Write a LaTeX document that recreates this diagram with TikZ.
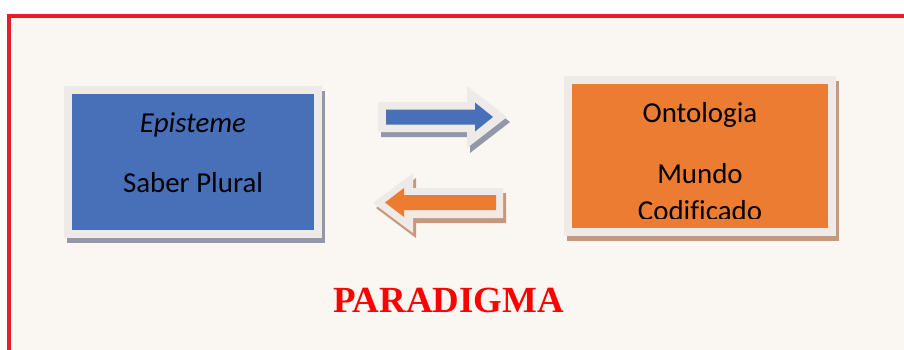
\documentclass[tikz,border=0pt]{standalone}
\usepackage{fontspec}
\setmainfont[Ligatures={TeX,NoCommon}]{Carlito}
\newfontfamily\titlefont{Liberation Serif}
\usetikzlibrary{backgrounds}
\definecolor{framered}{RGB}{236,27,40}
\definecolor{paper}{RGB}{250,246,242}
\definecolor{edge}{RGB}{238,234,231}
\definecolor{epiblue}{RGB}{72,112,185}
\definecolor{ontoorange}{RGB}{236,124,50}
\definecolor{blueshade}{RGB}{146,152,170}
\definecolor{orangeshade}{RGB}{200,152,124}
% block arrow: tail x, head x, tip x, mid y, half shaft, half head
\newcommand{\blockarrow}[6]{(#1,#4-#5) -- (#2,#4-#5) -- (#2,#4-#6) -- (#3,#4) -- (#2,#4+#6) -- (#2,#4+#5) -- (#1,#4+#5) -- cycle}
\begin{document}
\begin{tikzpicture}[x=1bp,y=-1bp,
	box/.style={minimum width=#1, minimum height=144bp, line width=8bp, draw=edge, inner sep=0pt},
	boxtext/.style={align=center, font=\fontsize{29}{37}\selectfont, inner sep=0pt}]
		\useasboundingbox (0,0) rectangle (904,349);
		% boxes
		\node[box=250bp, fill=epiblue] (episteme) at (193,162) {};
		\node[boxtext] (epitext) at (193,152.5) {\textit{Episteme}\\[23bp]Saber Plural};
		\node[box=264bp, minimum height=152bp, fill=ontoorange] (ontologia) at (700,156) {};
		\begin{scope}
			\clip ([yshift=18bp]ontologia.south west) rectangle (ontologia.north east);
			\node[boxtext] (ontotext) at (700,161.5) {Ontologia\\[24bp]Mundo\\Codificado};
		\end{scope}
		% arrows
		\fill[blueshade, shift={(3,5)}] \blockarrow{378}{467}{507}{117}{15}{31};
		\fill[edge] \blockarrow{378}{467}{507}{117}{15}{31};
		\fill[epiblue] \blockarrow{386}{475}{493}{117}{7.5}{14.5};
		\fill[orangeshade, shift={(3,5)}] \blockarrow{503}{413}{373}{203}{15}{30};
		\fill[edge] \blockarrow{503}{413}{373}{203}{15}{30};
		\fill[ontoorange] \blockarrow{496}{404}{385}{202.5}{7.5}{14.5};
		% title
		\node[font=\titlefont\bfseries\fontsize{37}{44}\selectfont, text=red, anchor=base, inner sep=0pt] (paradigma) at (448.5,312) {PARADIGMA};
		% frame and shadows
		\begin{scope}[on background layer]
			\fill[white] (0,0) rectangle (904,349);
			\filldraw[draw=framered, fill=paper, line width=3.5bp] (9,15.75) rectangle (915,360);
			\fill[blueshade] ([shift={(3,5)}]episteme.north west) rectangle ([shift={(3,5)}]episteme.south east);
			\fill[orangeshade] ([shift={(3,5)}]ontologia.north west) rectangle ([shift={(3,5)}]ontologia.south east);
		\end{scope}
\end{tikzpicture}
\end{document}
